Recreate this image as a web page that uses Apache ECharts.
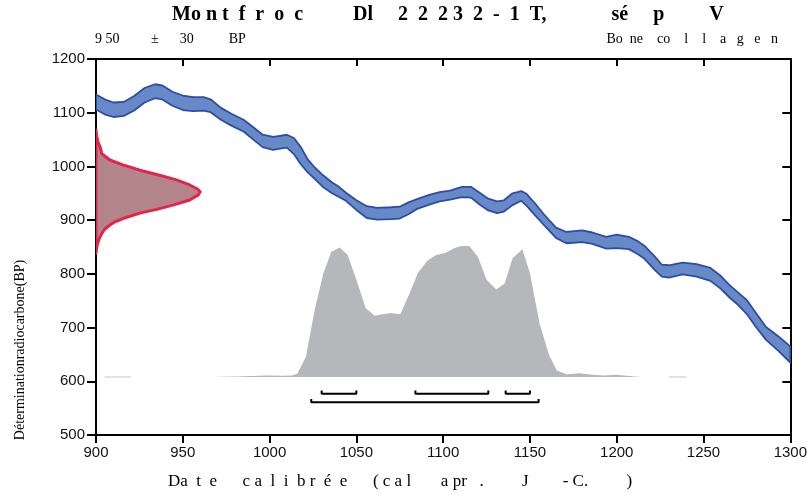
<!DOCTYPE html>
<html><head><meta charset="utf-8">
<script src="https://cdn.jsdelivr.net/npm/echarts@6/dist/echarts.min.js"></script>
<style>html,body{margin:0;padding:0;background:#fff}#c{width:810px;height:497px}</style>
</head><body><div id="c"></div>
<script>
// ---- data ----
const curveYears = [900,905,910,916,922,928,934,938,944,950,956,962,966,972,978,985,991,996,1002,1006,1010,1014,1018,1022,1026,1031,1036,1040,1044,1050,1056,1062,1070,1075,1080,1085,1092,1098,1104,1108,1111,1116,1121,1126,1131,1135,1140,1145,1148,1153,1158,1165,1171,1180,1186,1194,1200,1207,1212,1216,1222,1226,1230,1238,1246,1254,1260,1265,1270,1275,1280,1286,1293,1300];
const curveUpper = [1134,1125,1119,1120,1131,1146,1153,1151,1139,1132,1129,1129,1125,1109,1098,1087,1072,1059,1055,1057,1059,1053,1036,1013,998,983,970,962,951,937,926,923,924,925,933,939,947,952,955,959,962,962,951,940,935,937,950,954,949,931,911,886,878,881,877,869,873,869,861,852,832,817,816,821,818,811,796,779,765,751,728,701,684,665];
const curveLower = [1106,1097,1092,1094,1104,1119,1127,1125,1113,1105,1103,1104,1101,1087,1076,1065,1049,1036,1031,1033,1035,1023,1004,989,977,961,950,943,936,919,904,901,902,903,911,921,929,935,938,941,943,942,929,918,913,916,928,936,927,909,891,867,857,859,856,847,848,846,837,828,807,795,793,799,795,787,772,756,742,725,702,677,657,635];

const probBP   = [1068,1058,1045,1035,1024,1018,1012,1003,993,985,975,965.5,958,953,947,937.5,928,920,913,903,897,891,883,875,865,855,845,838];
const probYear = [900,900.3,901.2,902.5,903.3,905.5,908,915.5,925.3,935,946.4,954,958.5,960,959,954,944.3,935,925.3,915.5,911,908,905,903.3,901.8,900.8,900.2,900];

const grayYears = [966,980,990,998,1008,1013,1016,1021,1026,1031,1035.6,1040.4,1045,1050,1055.4,1060.6,1065,1070,1075.3,1080.7,1085.5,1091,1096,1101,1106.6,1110.5,1115,1120,1125,1130.6,1135.4,1140,1145.6,1150,1155.5,1161,1165.5,1171,1178.5,1186,1193,1200,1207,1214];
const grayBP    = [608,609,610,611,610.5,611,614,646,733,801,841,849,835,789,736,722,725,727,725,764,802,825,835,839,848,852,852,832,789,771,782,829,846,801,708,649,620,613,615,612,611,612,610,608];
const baselineBP = 608;
const flatSegments = [[905,920],[1230,1240]];

const range68 = [[1030,1050],[1084,1126],[1136,1150]];
const range95 = [[1024,1155]];
const level68 = 577, tick68 = 583;
const level95 = 561, tick95 = 567;

const xMin = 900, xMax = 1300, xStep = 50;
const yMin = 500, yMax = 1200, yStep = 100;

// ---- build ----
function polySeries(getPts, style, z) {
  return {
    type: 'custom', coordinateSystem: 'cartesian2d', xAxisIndex: 0, yAxisIndex: 0,
    data: [[xMin, yMin]], clip: true, z: z, silent: true,
    renderItem: function (params, api) {
      return { type: 'polygon', shape: { points: getPts().map(p => api.coord(p)) }, style: style };
    }
  };
}
const bandPts = () => curveYears.map((y, i) => [y, curveUpper[i]])
  .concat(curveYears.map((y, i) => [y, curveLower[i]]).reverse());
const probPts = () => probYear.map((x, i) => [x, probBP[i]]);
const grayPts = () => [[grayYears[0], baselineBP]]
  .concat(grayYears.map((y, i) => [y, grayBP[i]]))
  .concat([[grayYears[grayYears.length - 1], baselineBP]]);

const series = [];
series.push(polySeries(grayPts, { fill: '#b6b7bb', stroke: null }, 2));
flatSegments.forEach(s => series.push({
  type: 'line', data: [[s[0], baselineBP], [s[1], baselineBP]], symbol: 'none', silent: true,
  lineStyle: { color: '#c4c5c8', width: 1.2 }, z: 2
}));
series.push(polySeries(bandPts, { fill: '#6889c7', stroke: '#2c4da3', lineWidth: 1.8, lineJoin: 'round' }, 3));
series.push(polySeries(probPts, { fill: '#b4848b', stroke: '#e2264b', lineWidth: 3, lineJoin: 'round' }, 4));
function bracket(r, level, tick) {
  return { type: 'line', symbol: 'none', silent: true, z: 5,
    data: [[r[0], tick], [r[0], level], [r[1], level], [r[1], tick]],
    lineStyle: { color: '#000', width: 2 } };
}
range68.forEach(r => series.push(bracket(r, level68, tick68)));
range95.forEach(r => series.push(bracket(r, level95, tick95)));

const labelFont = { fontFamily: 'Liberation Sans, Arial, sans-serif', fontSize: 15, color: '#111',
  formatter: v => String(v) };
const axisLine = { show: true, onZero: false, lineStyle: { color: '#000', width: 2 } };
const serif = '"Liberation Serif", "Times New Roman", serif';

const chart = echarts.init(document.getElementById('c'), null, { renderer: 'canvas' });
chart.setOption({
  animation: false,
  backgroundColor: '#fff',
  grid: { left: 96, right: 19, top: 59, bottom: 62, containLabel: false },
  xAxis: [
    { type: 'value', position: 'bottom', min: xMin, max: xMax, interval: xStep,
      axisLine: axisLine, axisTick: { show: true, length: 8, lineStyle: { color: '#000', width: 2 } },
      axisLabel: Object.assign({ margin: 10 }, labelFont), splitLine: { show: false } },
    { type: 'value', position: 'top', min: xMin, max: xMax, interval: xStep,
      axisLine: axisLine, axisTick: { show: true, inside: true, length: 7, lineStyle: { color: '#000', width: 2 } },
      axisLabel: { show: false }, splitLine: { show: false } }
  ],
  yAxis: [
    { type: 'value', position: 'left', min: yMin, max: yMax, interval: yStep,
      axisLine: axisLine, axisTick: { show: true, length: 9, lineStyle: { color: '#000', width: 2 } },
      axisLabel: Object.assign({ margin: 11 }, labelFont), splitLine: { show: false } },
    { type: 'value', position: 'right', min: yMin, max: yMax, interval: yStep,
      axisLine: axisLine, axisTick: { show: true, inside: true, length: 8, lineStyle: { color: '#000', width: 2 } },
      axisLabel: { show: false }, splitLine: { show: false } }
  ],
  graphic: [
    { type: 'text', left: 172, top: 5, style: { text: 'Mo n t  f  r  o  c          Dl     2  2  2 3  2  -  1  T,             sé     p         V',
      font: 'bold 20px ' + serif, fill: '#000' } },
    { type: 'text', left: 95, top: 32, style: { text: '9 50         ±      30          BP',
      font: '14px ' + serif, fill: '#000' } },
    { type: 'text', right: 32, top: 32, style: { text: 'Bo  ne    co    l    l    a   g   e   n',
      font: '14px ' + serif, fill: '#000' } },
    { type: 'text', left: 168, top: 473, style: { text: 'Da  t  e      c a  l  i  b r  é  e      ( c a l       a pr   .         J        - C.         )',
      font: '17px ' + serif, fill: '#000' } },
    { type: 'text', x: 20, y: 350, rotation: Math.PI / 2, style: { text: 'Déterminationradiocarbone(BP)',
      font: '14px ' + serif, fill: '#000', textAlign: 'center', textVerticalAlign: 'middle' } }
  ],
  series: series
});
</script>
</body></html>
